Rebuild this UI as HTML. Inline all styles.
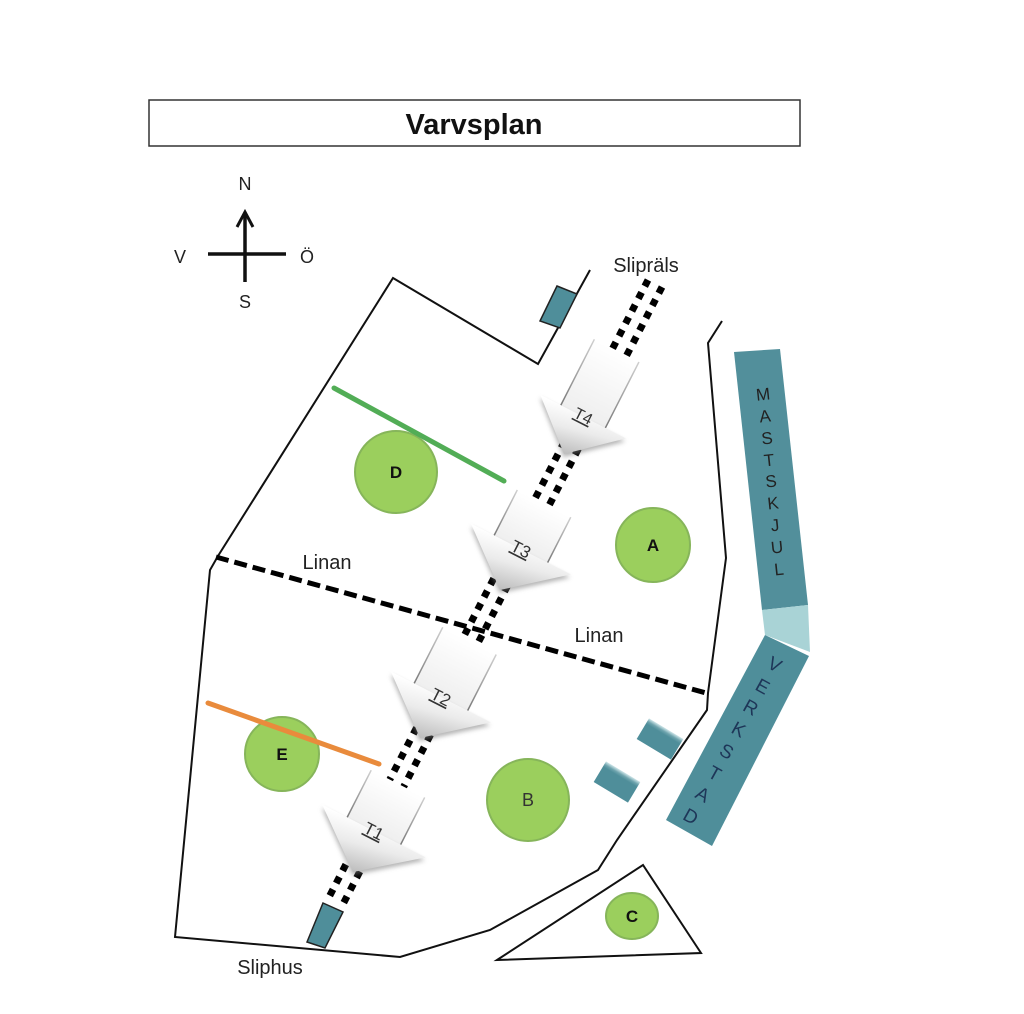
<!DOCTYPE html>
<html><head><meta charset="utf-8">
<style>
html,body{margin:0;padding:0;background:#fff;}
svg{display:block;}
text{font-family:"Liberation Sans",Arial,sans-serif;}
</style></head><body>
<svg width="1024" height="1014" viewBox="0 0 1024 1014" xmlns="http://www.w3.org/2000/svg">
<defs>
<linearGradient id="hg" x1="0.1" y1="0" x2="0.6" y2="1">
<stop offset="0" stop-color="#ffffff"/><stop offset="0.45" stop-color="#ebebeb"/><stop offset="1" stop-color="#b9b9b9"/></linearGradient>
<linearGradient id="bg" x1="0" y1="0" x2="0" y2="1">
<stop offset="0" stop-color="#ffffff"/><stop offset="1" stop-color="#eeeeee"/></linearGradient>
<linearGradient id="sg" x1="0" y1="0" x2="0" y2="1">
<stop offset="0" stop-color="#d0d0d0"/><stop offset="1" stop-color="#7a7a7a"/></linearGradient>
<linearGradient id="tg" x1="0" y1="0" x2="0" y2="1">
<stop offset="0" stop-color="#cfe6e9"/><stop offset="0.14" stop-color="#6ea3ad"/><stop offset="0.25" stop-color="#4f8e9a"/><stop offset="1" stop-color="#4f8e9a"/></linearGradient>
<filter id="sh" x="-30%" y="-30%" width="160%" height="160%"><feGaussianBlur stdDeviation="2.5"/></filter>
</defs>

<!-- Title -->
<rect x="149" y="100" width="651" height="46" fill="#fff" stroke="#333" stroke-width="1.5"/>
<text x="474" y="134" font-size="29" font-weight="bold" text-anchor="middle" fill="#111">Varvsplan</text>

<!-- Compass -->
<g stroke="#111" stroke-width="3.5" fill="none">
<line x1="245" y1="213" x2="245" y2="282"/>
<line x1="208" y1="254" x2="286" y2="254"/>
<polyline points="237,227 245,212 253,227" stroke-width="3"/>
</g>
<g font-size="18" fill="#222" text-anchor="middle">
<text x="245" y="190">N</text>
<text x="180" y="263">V</text>
<text x="307" y="263">Ö</text>
<text x="245" y="308">S</text>
</g>

<!-- Boundaries -->
<g stroke="#111" stroke-width="2" fill="none" stroke-linejoin="miter">
<polyline points="590,270 538,364 393,278 218,556 210,570 175,937 400,957 490,930 598,870 617,840 707,710 708,693 726,558 708,343 722,321"/>
<polygon points="497,960 643,865 701,953"/>
</g>

<!-- Teal buildings -->
<polygon points="734,352 780,349 808,605 762,610" fill="#528f9b"/>
<polygon points="762,610 808,605 810,652 765,635" fill="#a9d3d6"/>
<polygon points="765,635 809,656 712,846 666,820" fill="#4f8e9a"/>
<g transform="translate(660,739) rotate(31)"><rect x="-20" y="-12" width="40" height="24" fill="url(#tg)"/></g>
<g transform="translate(617,782) rotate(31)"><rect x="-20" y="-12" width="40" height="24" fill="url(#tg)"/></g>
<polygon points="557,286 577,294 560,328 540,321" fill="#4f8e9a" stroke="#222" stroke-width="1.5"/>
<polygon points="323,903 343,912 325,948 307,942" fill="#4f8e9a" stroke="#222" stroke-width="1.5"/>

<!-- MASTSKJUL -->
<g font-size="17" fill="#222" text-anchor="middle">
<text transform="translate(763,394) rotate(-6)" dy="6">M</text>
<text transform="translate(765,416) rotate(-6)" dy="6">A</text>
<text transform="translate(767,438) rotate(-6)" dy="6">S</text>
<text transform="translate(769,460) rotate(-6)" dy="6">T</text>
<text transform="translate(771,481) rotate(-6)" dy="6">S</text>
<text transform="translate(773,503) rotate(-6)" dy="6">K</text>
<text transform="translate(775,525) rotate(-6)" dy="6">J</text>
<text transform="translate(777,547) rotate(-6)" dy="6">U</text>
<text transform="translate(779,569) rotate(-6)" dy="6">L</text>
</g>
<!-- VERKSTAD -->
<g font-size="19" fill="#1e3658" text-anchor="middle">
<text transform="translate(775,664) rotate(29)" dy="7">V</text>
<text transform="translate(763,686) rotate(29)" dy="7">E</text>
<text transform="translate(751,707) rotate(29)" dy="7">R</text>
<text transform="translate(739,729) rotate(29)" dy="7">K</text>
<text transform="translate(727,751) rotate(29)" dy="7">S</text>
<text transform="translate(715,773) rotate(29)" dy="7">T</text>
<text transform="translate(703,794) rotate(29)" dy="7">A</text>
<text transform="translate(691,816) rotate(29)" dy="7">D</text>
</g>

<!-- Rails -->
<g stroke="#000" stroke-width="7" stroke-dasharray="7 7" fill="none">
<line x1="648" y1="280" x2="327" y2="901"/>
<line x1="662" y1="287" x2="341" y2="908"/>
</g>

<!-- Linan dashed line -->
<line x1="216" y1="557" x2="706" y2="693" stroke="#000" stroke-width="5" stroke-dasharray="13 6"/>

<!-- Circles -->
<g fill="#9bcf5d" stroke="#86b55a" stroke-width="2">
<circle cx="396" cy="472" r="41"/>
<circle cx="653" cy="545" r="37"/>
<circle cx="528" cy="800" r="41"/>
<circle cx="282" cy="754" r="37"/>
<ellipse cx="632" cy="916" rx="26" ry="23"/>
</g>

<!-- Green / orange lines -->
<line x1="334" y1="388" x2="504" y2="481" stroke="#52ad56" stroke-width="5" stroke-linecap="round"/>
<line x1="208" y1="703" x2="379" y2="764" stroke="#e98b3c" stroke-width="5" stroke-linecap="round"/>

<g font-size="17" font-weight="bold" fill="#111" text-anchor="middle">
<text x="396" y="478">D</text>
<text x="653" y="551">A</text>
<text x="282" y="760">E</text>
<text x="632" y="922">C</text>
</g>
<text x="528" y="806" font-size="18" fill="#333" text-anchor="middle">B</text>

<!-- Arrows -->
<!-- T4 -->
<g transform="translate(564,454) rotate(27)">
<rect x="-25" y="-116" width="50" height="76" fill="url(#bg)"/>
<path d="M-25,-116 L-25,-42 M25,-116 L25,-42" stroke="url(#sg)" stroke-width="1.5" fill="none"/>
<polygon points="-48,-42 48,-42 0,0" fill="#777" opacity="0.55" filter="url(#sh)" transform="translate(1,3)"/>
<polygon points="-48,-42 48,-42 0,0" fill="url(#hg)"/>
<text x="0" y="-37" font-family="Liberation Serif, serif" font-size="16" text-anchor="middle" fill="#333" text-decoration="underline">T4</text>
</g>
<!-- T3 -->
<g transform="translate(500,590) rotate(27)">
<rect x="-30" y="-97" width="60" height="53" fill="url(#bg)"/>
<path d="M-30,-97 L-30,-46 M30,-97 L30,-46" stroke="url(#sg)" stroke-width="1.5" fill="none"/>
<polygon points="-56,-46 56,-46 0,0" fill="#777" opacity="0.55" filter="url(#sh)" transform="translate(1,3)"/>
<polygon points="-56,-46 56,-46 0,0" fill="url(#hg)"/>
<text x="0" y="-40" font-family="Liberation Serif, serif" font-size="17" text-anchor="middle" fill="#333" text-decoration="underline">T3</text>
</g>
<!-- T2 -->
<g transform="translate(420,738) rotate(27)">
<rect x="-30" y="-109" width="60" height="65" fill="url(#bg)"/>
<path d="M-30,-109 L-30,-46 M30,-109 L30,-46" stroke="url(#sg)" stroke-width="1.5" fill="none"/>
<polygon points="-56,-46 56,-46 0,0" fill="#777" opacity="0.55" filter="url(#sh)" transform="translate(1,3)"/>
<polygon points="-56,-46 56,-46 0,0" fill="url(#hg)"/>
<text x="0" y="-40" font-family="Liberation Serif, serif" font-size="17" text-anchor="middle" fill="#333" text-decoration="underline">T2</text>
</g>
<!-- T1 -->
<g transform="translate(353,872) rotate(27)">
<rect x="-30" y="-99" width="60" height="55" fill="url(#bg)"/>
<path d="M-30,-99 L-30,-46 M30,-99 L30,-46" stroke="url(#sg)" stroke-width="1.5" fill="none"/>
<polygon points="-58,-46 58,-46 0,0" fill="#777" opacity="0.55" filter="url(#sh)" transform="translate(1,3)"/>
<polygon points="-58,-46 58,-46 0,0" fill="url(#hg)"/>
<text x="0" y="-40" font-family="Liberation Serif, serif" font-size="17" text-anchor="middle" fill="#333" text-decoration="underline">T1</text>
</g>

<!-- Labels -->
<g font-size="20" fill="#222" text-anchor="middle">
<text x="646" y="272">Slipräls</text>
<text x="270" y="974">Sliphus</text>
<text x="327" y="569">Linan</text>
<text x="599" y="642">Linan</text>
</g>
</svg>
</body></html>
